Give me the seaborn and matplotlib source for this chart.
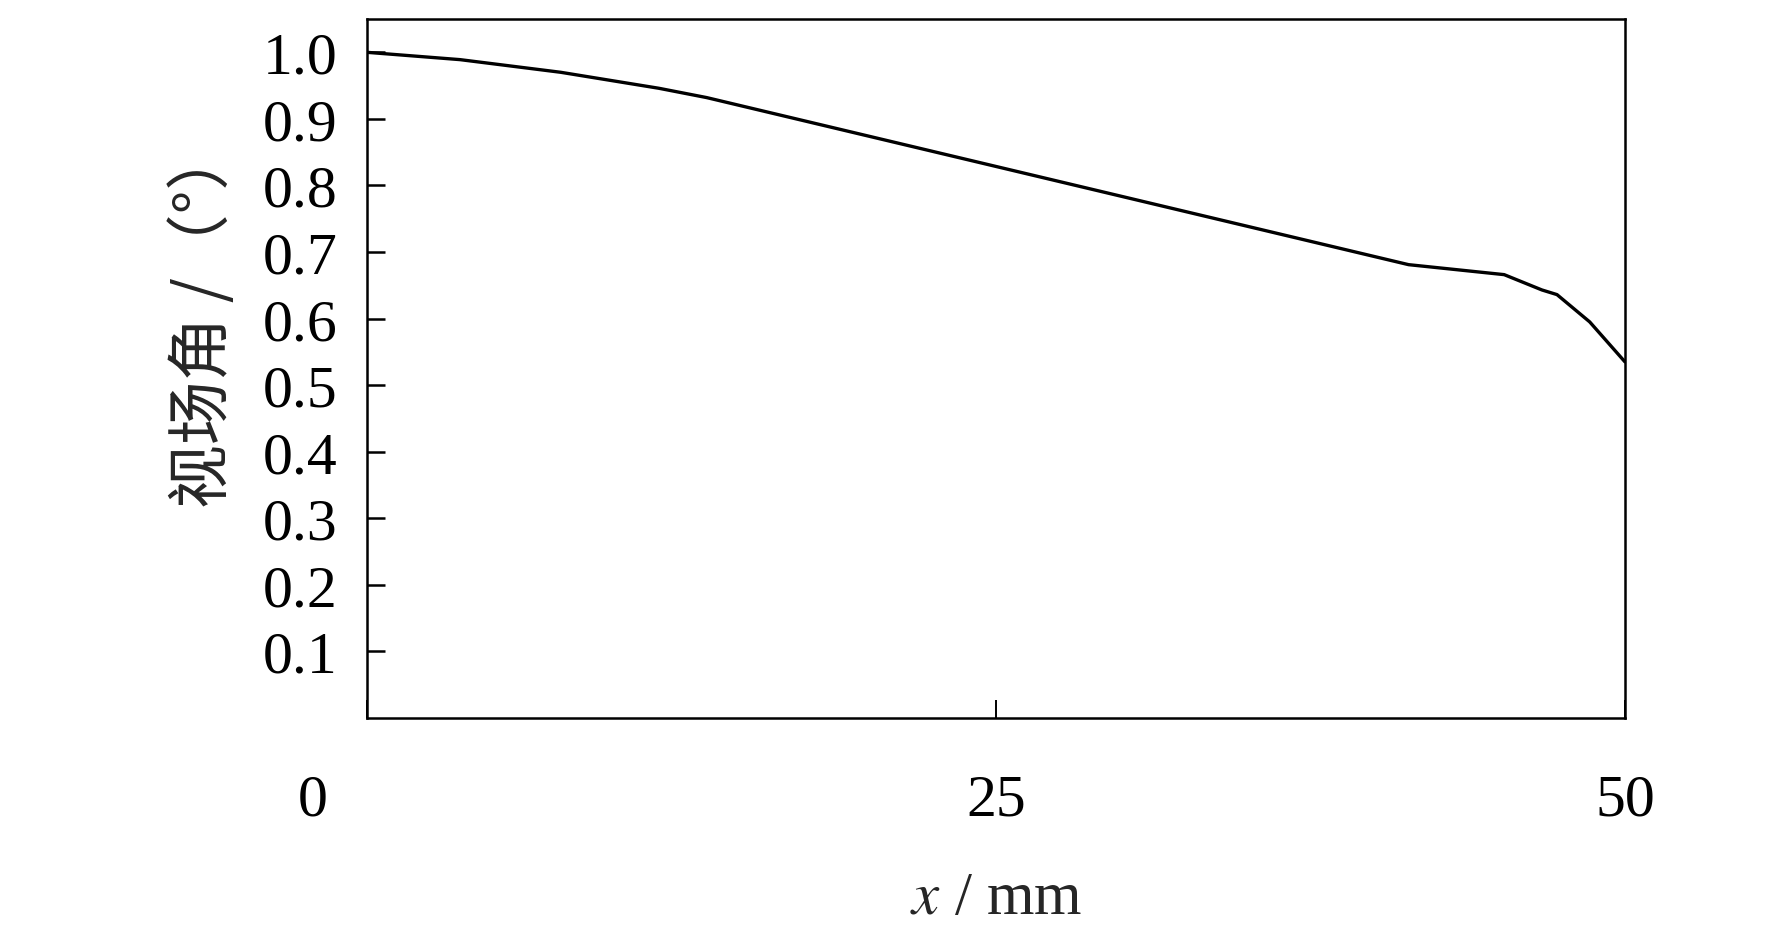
import numpy as np
import pandas as pd
import matplotlib
matplotlib.use("Agg")
import matplotlib.pyplot as plt
import matplotlib.transforms as mtransforms
import seaborn as sns

# field of view angle vs position
x_mm = [0, 3.7, 7.7, 11.6, 13.5, 41.4, 45.2, 46.7, 47.3, 48.6, 50]
fov = [1.0, 0.989, 0.970, 0.946, 0.932, 0.681, 0.666, 0.643, 0.636, 0.595, 0.535]
x_ticks = [0, 25, 50]
y_ticks = [0.1, 0.2, 0.3, 0.4, 0.5, 0.6, 0.7, 0.8, 0.9, 1.0]

df = pd.DataFrame({'x': x_mm, 'fov': fov})

sns.set_style('ticks')
plt.rcParams['font.family'] = ['Liberation Serif', 'Noto Sans CJK SC']
plt.rcParams['mathtext.fontset'] = 'stix'

fig = plt.figure(figsize=(17.72, 9.45), dpi=100)
ax = fig.add_axes([0.2071, 0.2392, 0.7099, 0.7396])

sns.lineplot(data=df, x='x', y='fov', color='black', linewidth=2.4, ax=ax)

ax.set_xlim(0, 50)
ax.set_ylim(0, 1.05)
ax.set_xticks(x_ticks)
ax.set_xticklabels([str(t) for t in x_ticks])
ax.set_yticks(y_ticks)
ax.set_yticklabels([f'{t:.1f}' for t in y_ticks])

for s in ax.spines.values():
    s.set_visible(True)
    s.set_linewidth(1.8)
    s.set_color('black')

ax.tick_params(axis='y', direction='in', length=13, width=1.8, pad=21,
               labelsize=43, colors='black')
ax.tick_params(axis='x', direction='in', length=13, width=1.4, pad=40,
               labelsize=43, colors='black')

# the "0" label sits left of the frame in the original
lbl0 = ax.get_xticklabels()[0]
lbl0.set_transform(lbl0.get_transform() +
                   mtransforms.ScaledTranslation(-54 / 100, 0, fig.dpi_scale_trans))

ax.set_xlabel('$x$ / mm', fontsize=44, labelpad=31)
ax.set_ylabel('视场角 /（°）', fontsize=46, family=['Noto Sans CJK SC', 'DejaVu Sans'])
ax.yaxis.set_label_coords(-0.103, 0.575)

fig.savefig('out.png', dpi=100)
